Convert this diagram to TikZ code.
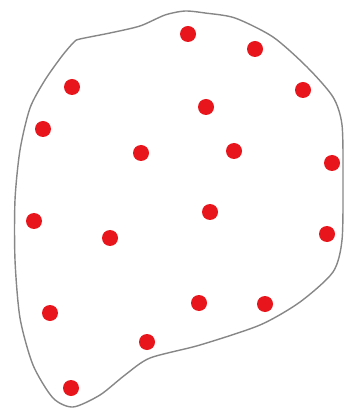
\documentclass[tikz,border=0pt]{standalone}
\usepackage{tikz}

\definecolor{dotred}{RGB}{232,22,28}
\definecolor{outline}{RGB}{135,135,135}

\begin{document}
\begin{tikzpicture}[x=0.02cm,y=-0.02cm]
\useasboundingbox (0,0) rectangle (345,411);

% region boundary
\draw[outline,line width=0.8pt] plot[smooth cycle,tension=0.45] coordinates {
(74,42) (80,39) (110,33) (140,26) (165,15) (185,11) (205,13) (235,18)
(273,37) (307,67) (333,97) (342,125) (343,180) (342,240) (333,272)
(300,302) (260,325) (200,345) (150,358) (125,375) (100,395)
(73,407) (53,398) (33,365) (20,318) (15,260) (15,200) (20,150)
(30,108) (45,80) (62,56)};

% points
\fill[dotred] (188,34) circle (8);
\fill[dotred] (255,49) circle (8);
\fill[dotred] (72,87) circle (8);
\fill[dotred] (303,90) circle (8);
\fill[dotred] (206,107) circle (8);
\fill[dotred] (43,129) circle (8);
\fill[dotred] (141,153) circle (8);
\fill[dotred] (234,151) circle (8);
\fill[dotred] (332,163) circle (8);
\fill[dotred] (34,221) circle (8);
\fill[dotred] (210,212) circle (8);
\fill[dotred] (110,238) circle (8);
\fill[dotred] (327,234) circle (8);
\fill[dotred] (50,313) circle (8);
\fill[dotred] (199,303) circle (8);
\fill[dotred] (265,304) circle (8);
\fill[dotred] (147,342) circle (8);
\fill[dotred] (71,388) circle (8);
\end{tikzpicture}
\end{document}
